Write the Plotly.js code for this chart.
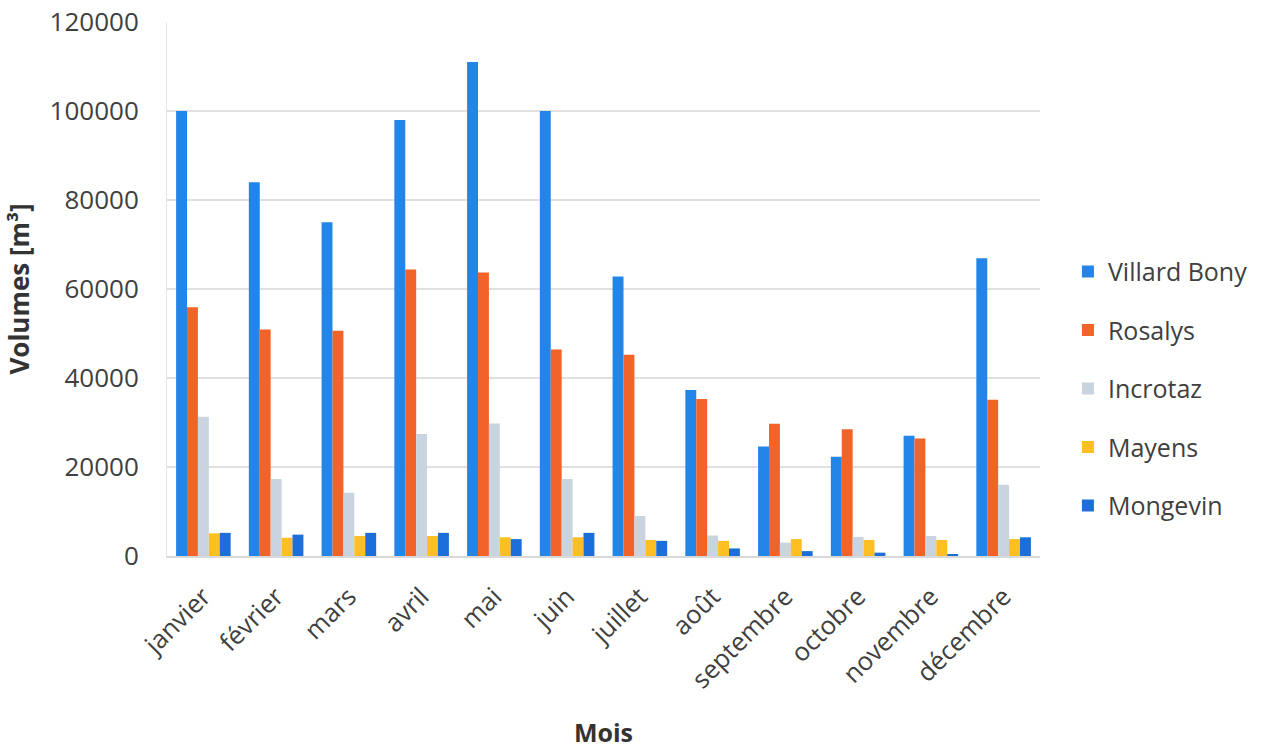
<!DOCTYPE html>
<html>
<head>
<meta charset="utf-8">
<script src="https://cdn.plot.ly/plotly-3.0.1.min.js"></script>
<style>html,body{margin:0;padding:0;background:#fff;}#chart{width:1267px;height:750px;}</style>
</head>
<body>
<div id="chart"></div>
<script>
const months = ["janvier","février","mars","avril","mai","juin","juillet","août","septembre","octobre","novembre","décembre"];
const villardBony = [100000, 84000, 75000, 98000, 111000, 100000, 62800, 37300, 24600, 22300, 27000, 66900];
const rosalys     = [55900, 50900, 50600, 64400, 63700, 46400, 45200, 35300, 29700, 28500, 26400, 35100];
const incrotaz    = [31300, 17300, 14200, 27400, 29800, 17300, 9000, 4600, 3000, 4300, 4500, 16000];
const mayens      = [5100, 4100, 4500, 4500, 4200, 4200, 3600, 3400, 3800, 3600, 3600, 3800];
const mongevin    = [5200, 4800, 5200, 5200, 3800, 5200, 3400, 1700, 1100, 750, 450, 4200];

const seriesNames = ["Villard Bony","Rosalys","Incrotaz","Mayens","Mongevin"];
const seriesData = [villardBony, rosalys, incrotaz, mayens, mongevin];
const colors = ["#2385e8","#f2632a","#c9d4de","#fdbf22","#1c6fd8"];

const traces = seriesNames.map((n,i)=>({
  type:"bar", name:n, x:months, y:seriesData[i],
  marker:{color:colors[i]}, legendgroup:"g"+i
}));

const font = "Open Sans, Liberation Sans, sans-serif";
const layout = {
  width:1267, height:750,
  paper_bgcolor:"#fff", plot_bgcolor:"#fff",
  margin:{l:167, r:227, t:22, b:194},
  barmode:"group", bargap:0.25, bargroupgap:0,
  font:{family:font, size:24, color:"#404040"},
  xaxis:{
    tickangle:-45, tickfont:{size:25.5, color:"#404040"},
    showline:true, linecolor:"#d9d9d9", linewidth:1.5,
    ticks:"", showgrid:false, ticklabelstandoff:14,
    title:{text:"<b>Mois</b>", font:{size:25, color:"#333333"}, standoff:30}
  },
  yaxis:{
    range:[0,120000], dtick:20000, tickformat:"d",
    showgrid:true, gridcolor:"#e0e0e0", gridwidth:1.5,
    showline:true, linecolor:"#e6e6e6", zeroline:false,
    ticks:"", ticklen:0, tickfont:{size:26, color:"#404040"},
    ticklabelstandoff:22,
    title:{text:"<b>Volumes [m³]</b>", font:{size:26, color:"#333333"}, standoff:12}
  },
  legend:{
    x:1.032, xanchor:"left", y:0.313, yanchor:"middle",
    font:{size:25, color:"#404040"}, tracegroupgap:23,
    itemwidth:30
  },
  showlegend:true
};

Plotly.newPlot("chart", traces, layout, {displayModeBar:false, staticPlot:true});
</script>
</body>
</html>
